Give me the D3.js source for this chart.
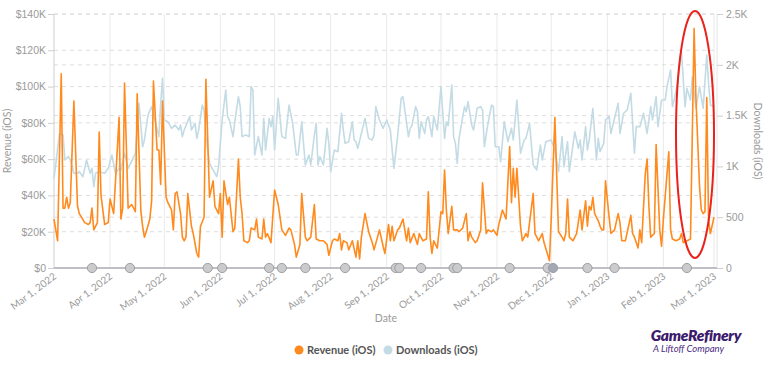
<!DOCTYPE html>
<html>
<head>
<meta charset="utf-8">
<script src="https://cdn.jsdelivr.net/npm/d3@7"></script>
<style>
  body { margin: 0; background: #fff; }
  svg { display: block; font-family: Lato, "Open Sans", sans-serif; }
</style>
</head>
<body>
<svg id="chart" width="768" height="372"></svg>
<script>
// day offsets are counted from Mar 1, 2022
const START = Date.UTC(2022, 2, 1);

const revenueDay = [0,2,4,5,6,7,8,9,11,13,14,17,19,20,21,22,24,25,26,28,30,31,33,36,37,38,39,41,43,45,46,48,49,50,51,53,54,55,57,58,59,60,62,63,65,66,67,68,70,71,72,73,74,76,77,79,80,81,83,84,86,88,89,91,92,93,94,96,97,99,100,102,103,104,105,107,108,109,111,112,113,115,116,117,118,120,122,124,126,128,130,131,133,134,136,137,139,140,142,144,145,147,149,151,152,154,155,157,158,159,160,162,163,165,167,168,169,170,172,174,176,177,180,182,183,185,186,187,188,190,191,193,195,196,197,199,201,202,204,206,207,208,209,210,212,214,215,216,217,218,220,221,223,224,226,228,229,230,231,233,234,236,237,239,240,242,243,245,246,248,250,252,253,254,255,256,258,259,261,262,265,266,268,270,271,274,275,277,279,281,282,283,284,285,287,289,291,292,294,295,296,297,298,299,301,302,303,304,305,307,308,310,312,313,314,316,319,320,321,323,324,325,327,328,329,330,332,333,335,336,337,340,341,342,344,346,347,348,352,354,355,357,358,359,360,361,362,363,365];
const revenueK = [27,15,107,33,33,39,33,36,92,34,30,25,24,25,33,21,25,75,40,24,25,38,30,83,27,33,102,33,35,31,96,32,23,17,20,27,37,103,65,65,46,92,39,36,32,21,41,42,30,17,15,17,41,23,19,8,6,23,28,104,39,48,34,30,41,17,48,35,39,20,22,60,39,30,15,14,15,22,21,27,17,16,27,17,19,14,43,35,21,18,22,21,13,6,13,41,17,15,17,35,16,15,15,13,7,15,16,15,19,10,15,14,10,15,6,15,5,17,30,20,14,10,21,12,8,24,15,23,15,21,22,27,15,22,14,19,13,19,15,16,42,17,8,15,11,31,30,54,32,19,34,21,21,20,22,30,15,20,17,14,15,21,47,19,21,20,21,18,24,32,27,67,36,55,39,55,23,15,19,17,41,19,15,19,14,4,28,83,20,17,15,19,38,17,15,19,32,21,37,23,34,32,39,30,26,23,21,21,48,28,19,21,30,25,15,15,29,19,17,11,21,14,52,60,34,17,19,68,21,12,27,64,21,16,15,16,19,14,16,132,94,45,32,30,31,94,26,19,28];

const downloadsDay = [0,3,5,6,8,9,11,13,14,16,18,19,20,21,22,23,25,28,30,32,34,36,37,39,41,45,47,49,50,52,54,58,59,60,61,63,65,67,69,70,71,72,75,76,78,79,80,82,83,84,86,90,91,93,95,96,97,99,100,102,103,104,106,108,109,110,111,113,115,116,117,119,120,121,122,124,126,128,130,132,134,135,137,139,141,142,144,145,146,147,149,151,152,153,155,157,159,160,161,163,165,166,167,168,172,174,176,177,178,180,182,184,186,188,190,192,193,196,197,198,200,201,202,203,205,206,207,209,210,212,214,216,217,218,220,221,222,223,224,227,228,229,231,232,233,234,236,237,238,240,242,243,244,246,247,249,251,253,254,256,258,260,261,263,265,267,268,269,270,272,275,277,279,281,282,284,285,288,290,291,292,294,295,296,298,300,301,302,304,305,307,308,312,313,315,317,319,321,322,324,326,328,330,331,333,334,336,338,339,341,342,343,345,347,349,350,352,353,355,357,359,361,362,363,365];
const downloads = [880,1320,1310,1063,1096,1063,932,932,948,899,1063,997,932,981,801,932,948,932,981,1112,932,981,965,1129,981,1129,1621,1194,1260,1506,1588,1293,1621,1867,1457,1440,1375,1407,1358,1407,1293,1358,1490,1358,1424,1276,1358,1604,1555,1293,1030,899,997,1457,1752,1490,1457,1293,1440,1686,1588,1293,1309,1293,1785,1752,1112,1293,1112,1473,1161,1473,1391,1490,1161,1670,1293,1276,1604,1424,1112,1112,1440,1014,1112,1014,1309,1424,1014,1096,1014,1375,1227,948,1161,1145,1522,1358,1227,1243,1440,1260,1243,1178,1473,1276,1260,1309,1588,1457,1375,1457,1358,981,1293,1670,1686,1293,1375,1407,1588,1539,1276,1440,1325,1457,1490,1293,1490,1358,1785,1276,1440,1400,1801,1293,1227,1030,1276,1588,1539,1637,1407,1358,1457,1572,1588,1555,1194,1424,1604,1588,1194,1194,1046,1440,1243,1375,1260,1653,1129,1260,1276,1424,1014,965,1096,1210,1063,1243,1260,1161,948,1293,997,1243,948,1341,1178,1260,1063,1391,1161,1260,1572,1063,1276,1145,1227,1457,1490,1325,1621,1325,1522,1555,1719,1129,1391,1391,1522,1325,1588,1457,1686,1391,1653,1653,1785,1949,1588,1653,1850,2129,1588,1768,1653,1883,1572,1785,1572,2096,1818,1604,1588];

const monthTicks = ["2022-03-01","2022-04-01","2022-05-01","2022-06-01","2022-07-01","2022-08-01","2022-09-01","2022-10-01","2022-11-01","2022-12-01","2023-01-01","2023-02-01","2023-03-01"];
const revenueTicks = [0, 20, 40, 60, 80, 100, 120, 140];
const downloadTicks = [0, 500, 1000, 1500, 2000, 2500];
const eventDates = ["2022-03-22","2022-04-12","2022-05-25","2022-06-02","2022-06-28","2022-07-05","2022-07-18","2022-08-09","2022-09-06","2022-09-08","2022-09-20","2022-10-08","2022-10-10","2022-11-08","2022-11-29","2022-12-02","2022-12-21","2023-01-05","2023-02-14"];
const darkEvents = ["2022-12-02"];
const seriesNames = ["Revenue (iOS)", "Downloads (iOS)"];

const ORANGE = "#ff8a1d";
const BLUE = "#c3dbe4";
const TEXT = "#9a9a9a";

const svg = d3.select("#chart");
const plotLeft = 54, plotRight = 714, axisRight = 717, plotTop = 14, plotBottom = 268;

const dayDate = d => new Date(START + d * 864e5);
const parse = d3.utcParse("%Y-%m-%d");

const x = d3.scaleUtc()
    .domain([parse(monthTicks[0]), parse(monthTicks[monthTicks.length - 1])])
    .range([plotLeft, plotRight]);
const yRev = d3.scaleLinear().domain([0, 140]).range([plotBottom, plotTop]);
const yDl = d3.scaleLinear().domain([0, 2500]).range([plotBottom, plotTop]);

// vertical month grid
svg.append("g").selectAll("line")
    .data(monthTicks.slice(1))
    .join("line")
    .attr("x1", d => x(parse(d))).attr("x2", d => x(parse(d)))
    .attr("y1", plotTop).attr("y2", plotBottom)
    .attr("stroke", "#e9e9e9").attr("stroke-width", 1);

// dashed horizontal grid for both axes
const hGrid = svg.append("g").attr("stroke", "#dedede").attr("stroke-dasharray", "4,4");
hGrid.selectAll("line.rev").data(revenueTicks.slice(1)).join("line")
    .attr("class", "rev")
    .attr("x1", plotLeft).attr("x2", axisRight)
    .attr("y1", d => yRev(d)).attr("y2", d => yRev(d));
hGrid.selectAll("line.dl").data(downloadTicks.slice(1)).join("line")
    .attr("class", "dl")
    .attr("x1", plotLeft).attr("x2", axisRight)
    .attr("y1", d => yDl(d)).attr("y2", d => yDl(d));

// side axis lines
svg.append("line").attr("x1", plotLeft).attr("x2", plotLeft).attr("y1", plotTop).attr("y2", plotBottom)
    .attr("stroke", "#cfcfcf");
svg.append("line").attr("x1", axisRight).attr("x2", axisRight).attr("y1", plotTop).attr("y2", plotBottom)
    .attr("stroke", "#e4e4e4");

// left axis
const leftAxis = svg.append("g")
    .attr("transform", `translate(${plotLeft},0)`)
    .call(d3.axisLeft(yRev).tickValues(revenueTicks).tickSize(6).tickPadding(2)
        .tickFormat(d => d === 0 ? "$0" : `$${d}K`));
leftAxis.select(".domain").remove();
leftAxis.selectAll("line").attr("stroke", "#cfcfcf");
leftAxis.selectAll("text").attr("fill", TEXT).attr("font-size", 10.5);

// right axis
const rightAxis = svg.append("g")
    .attr("transform", `translate(${axisRight},0)`)
    .call(d3.axisRight(yDl).tickValues(downloadTicks).tickSize(6).tickPadding(3)
        .tickFormat(d => d >= 1000 ? `${d / 1000}K` : d));
rightAxis.select(".domain").remove();
rightAxis.selectAll("line").attr("stroke", "#cfcfcf");
rightAxis.selectAll("text").attr("fill", TEXT).attr("font-size", 10.5);

// lines
const dlLine = d3.line().x((d, i) => x(dayDate(downloadsDay[i]))).y(d => yDl(d));
const revLine = d3.line().x((d, i) => x(dayDate(revenueDay[i]))).y(d => yRev(d));

svg.append("path").datum(downloads)
    .attr("d", dlLine).attr("fill", "none")
    .attr("stroke", BLUE).attr("stroke-width", 1.6).attr("stroke-linejoin", "round");
svg.append("path").datum(revenueK)
    .attr("d", revLine).attr("fill", "none")
    .attr("stroke", ORANGE).attr("stroke-width", 1.6).attr("stroke-linejoin", "round");

// baseline
svg.append("line").attr("x1", plotLeft).attr("x2", axisRight).attr("y1", plotBottom).attr("y2", plotBottom)
    .attr("stroke", "#a9abb2").attr("stroke-width", 1.5);

// event markers
svg.append("g").selectAll("circle")
    .data(eventDates)
    .join("circle")
    .attr("cx", d => x(parse(d)))
    .attr("cy", plotBottom)
    .attr("r", 4.6)
    .attr("fill", d => darkEvents.includes(d) ? "#a4a8b4" : "#cbcbcb")
    .attr("stroke", "#9c9ea6").attr("stroke-width", 1);

// x tick labels
const fmt = d3.utcFormat("%b %-d, %Y");
svg.append("g").selectAll("text")
    .data(monthTicks)
    .join("text")
    .attr("transform", d => `translate(${x(parse(d)) + 1},${plotBottom + 7}) rotate(-37)`)
    .attr("text-anchor", "end")
    .attr("dy", "0.35em")
    .attr("fill", TEXT).attr("font-size", 10)
    .text(d => fmt(parse(d)));

// axis titles
svg.append("text").attr("transform", "translate(11,141) rotate(-90)")
    .attr("text-anchor", "middle").attr("fill", TEXT).attr("font-size", 10.5)
    .text("Revenue (iOS)");
svg.append("text").attr("transform", "translate(754,141) rotate(90)")
    .attr("text-anchor", "middle").attr("fill", TEXT).attr("font-size", 10.5)
    .text("Downloads (iOS)");
svg.append("text").attr("x", 386).attr("y", 322)
    .attr("text-anchor", "middle").attr("fill", TEXT).attr("font-size", 10.5)
    .text("Date");

// legend
const legendX = [299, 388];
const legendColor = [ORANGE, BLUE];
const legend = svg.append("g").selectAll("g")
    .data(seriesNames)
    .join("g")
    .attr("transform", (d, i) => `translate(${legendX[i]},350)`);
legend.append("circle").attr("r", 4.5).attr("fill", (d, i) => legendColor[i]);
legend.append("text").attr("x", 8).attr("dy", "0.35em")
    .attr("fill", "#555").attr("font-size", 11).attr("font-weight", 700)
    .text(d => d);

// highlight ellipse
svg.append("ellipse")
    .attr("cx", 695).attr("cy", 134.5).attr("rx", 19).attr("ry", 123.5)
    .attr("fill", "none").attr("stroke", "#e8231b").attr("stroke-width", 2);

// logo
svg.append("text").attr("x", 696).attr("y", 341)
    .attr("text-anchor", "middle").attr("fill", "#3c1b6c")
    .attr("font-size", 15.5).attr("font-weight", 800).attr("font-style", "italic")
    .attr("letter-spacing", -0.3)
    .text("GameRefinery");
svg.append("text").attr("x", 653).attr("y", 352)
    .attr("fill", "#4b2a82").attr("font-size", 9.5).attr("font-style", "italic")
    .text("A Liftoff Company");
</script>
</body>
</html>
